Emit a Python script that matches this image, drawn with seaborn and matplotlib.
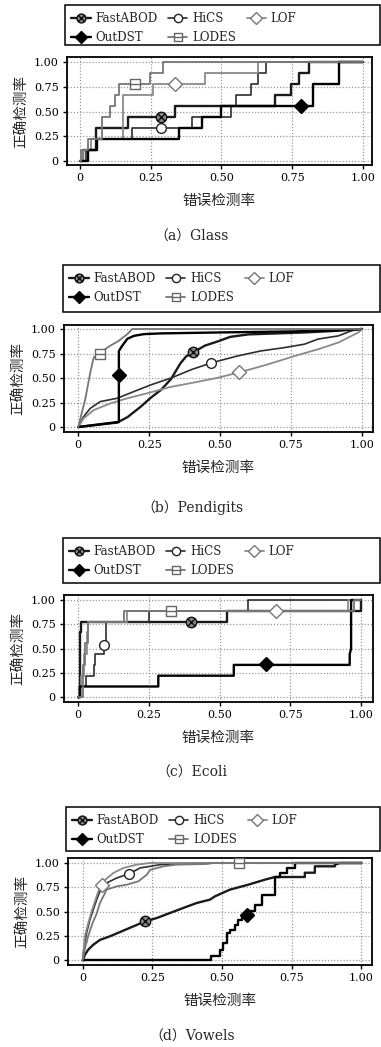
import numpy as np
import matplotlib
matplotlib.use("Agg")
import matplotlib.pyplot as plt
from matplotlib.lines import Line2D
from matplotlib.patches import Rectangle
from matplotlib.path import Path
import seaborn as sns

# ---------------- data ----------------
methods = ["FastABOD", "HiCS", "LOF", "OutDST", "LODES"]
tick_vals = [0, 0.25, 0.5, 0.75, 1.0]
tick_labels = ["0", "0.25", "0.50", "0.75", "1.00"]
captions = ["（a）Glass", "（b）Pendigits", "（c）Ecoli", "（d）Vowels"]
xlabel_text = "错误检测率"
ylabel_text = "正确检测率"

# (a) Glass
a_fastabod_x = [0, 0.01, 0.01, 0.057, 0.057, 0.17, 0.17, 0.337, 0.337, 0.69, 0.69, 0.745, 0.745, 0.775, 0.775, 0.81, 0.81, 1.0]
a_fastabod_y = [0, 0, 0.111, 0.111, 0.333, 0.333, 0.444, 0.444, 0.556, 0.556, 0.667, 0.667, 0.778, 0.778, 0.889, 0.889, 1.0, 1.0]
a_hics_x = [0, 0.02, 0.02, 0.06, 0.06, 0.182, 0.182, 0.396, 0.396, 0.533, 0.533, 0.553, 0.553, 0.605, 0.605, 0.628, 0.628, 0.658, 0.658, 1.0]
a_hics_y = [0, 0, 0.111, 0.111, 0.222, 0.222, 0.333, 0.333, 0.444, 0.444, 0.556, 0.556, 0.667, 0.667, 0.778, 0.778, 0.889, 0.889, 1.0, 1.0]
a_lof_x = [0, 0.01, 0.01, 0.04, 0.04, 0.152, 0.152, 0.257, 0.257, 0.44, 0.44, 0.63, 0.63, 1.0]
a_lof_y = [0, 0, 0.111, 0.111, 0.222, 0.222, 0.667, 0.667, 0.778, 0.778, 0.889, 0.889, 1.0, 1.0]
a_outdst_x = [0, 0.03, 0.03, 0.06, 0.06, 0.349, 0.349, 0.43, 0.43, 0.497, 0.497, 0.825, 0.825, 0.914, 0.914, 1.0]
a_outdst_y = [0, 0, 0.111, 0.111, 0.222, 0.222, 0.333, 0.333, 0.444, 0.444, 0.556, 0.556, 0.778, 0.778, 1.0, 1.0]
a_lodes_x = [0, 0.005, 0.005, 0.03, 0.03, 0.079, 0.079, 0.105, 0.105, 0.123, 0.123, 0.138, 0.138, 0.247, 0.247, 0.295, 0.295, 1.0]
a_lodes_y = [0, 0, 0.111, 0.111, 0.222, 0.222, 0.444, 0.444, 0.556, 0.556, 0.667, 0.667, 0.778, 0.778, 0.889, 0.889, 1.0, 1.0]
a_marker_x = [0.285, 0.285, 0.337, 0.78, 0.194]
a_marker_y = [0.444, 0.333, 0.778, 0.556, 0.778]

# (b) Pendigits
b_fastabod_x = [0, 0.137, 0.173, 0.22, 0.256, 0.292, 0.327, 0.36, 0.38, 0.408, 0.446, 0.488, 0.536, 0.6, 0.7, 0.8, 0.9, 1.0]
b_fastabod_y = [0, 0.045, 0.1, 0.207, 0.3, 0.38, 0.49, 0.65, 0.72, 0.766, 0.83, 0.87, 0.92, 0.945, 0.955, 0.965, 0.98, 1.0]
b_hics_x = [0, 0.018, 0.042, 0.077, 0.137, 0.196, 0.256, 0.327, 0.399, 0.47, 0.56, 0.643, 0.726, 0.797, 0.845, 0.917, 0.964, 1.0]
b_hics_y = [0, 0.103, 0.19, 0.259, 0.293, 0.362, 0.43, 0.5, 0.586, 0.655, 0.724, 0.776, 0.81, 0.845, 0.897, 0.93, 0.983, 1.0]
b_lof_x = [0, 0.018, 0.054, 0.113, 0.173, 0.244, 0.327, 0.41, 0.488, 0.571, 0.667, 0.762, 0.845, 0.917, 0.988, 1.0]
b_lof_y = [0, 0.086, 0.172, 0.241, 0.293, 0.345, 0.41, 0.455, 0.5, 0.56, 0.638, 0.724, 0.793, 0.862, 0.966, 1.0]
b_outdst_x = [0, 0.137, 0.143, 0.143, 0.155, 0.173, 0.196, 0.232, 0.29, 0.5, 0.75, 0.9, 1.0]
b_outdst_y = [0, 0.05, 0.05, 0.776, 0.83, 0.9, 0.93, 0.948, 0.955, 0.965, 0.975, 0.985, 1.0]
b_lodes_x = [0, 0.01, 0.024, 0.042, 0.054, 0.077, 0.113, 0.143, 0.173, 0.19, 1.0]
b_lodes_y = [0, 0.12, 0.276, 0.552, 0.707, 0.76, 0.83, 0.88, 0.948, 1.0, 1.0]
b_marker_x = [0.405, 0.468, 0.565, 0.143, 0.077]
b_marker_y = [0.766, 0.65, 0.56, 0.534, 0.75]

# (c) Ecoli
c_fastabod_x = [0, 0.005, 0.005, 0.01, 0.01, 0.526, 0.526, 1.0, 1.0]
c_fastabod_y = [0, 0, 0.667, 0.667, 0.778, 0.778, 0.889, 0.889, 1.0]
c_hics_x = [0, 0.005, 0.005, 0.027, 0.027, 0.054, 0.054, 0.06, 0.06, 0.09, 0.09, 0.098, 0.098, 0.25, 0.25, 0.6, 0.6, 1.0]
c_hics_y = [0, 0, 0.111, 0.111, 0.222, 0.222, 0.333, 0.333, 0.444, 0.444, 0.556, 0.556, 0.778, 0.778, 0.889, 0.889, 1.0, 1.0]
c_lof_x = [0, 0.01, 0.01, 0.02, 0.02, 0.03, 0.03, 0.035, 0.035, 0.173, 0.173, 0.953, 0.953, 1.0]
c_lof_y = [0, 0, 0.222, 0.222, 0.444, 0.444, 0.667, 0.667, 0.778, 0.778, 0.889, 0.889, 1.0, 1.0]
c_outdst_x = [0, 0.005, 0.005, 0.283, 0.283, 0.55, 0.55, 0.96, 0.96, 0.965, 0.965, 1.0]
c_outdst_y = [0, 0, 0.111, 0.111, 0.222, 0.222, 0.333, 0.333, 0.444, 0.5, 1.0, 1.0]
c_lodes_x = [0, 0.015, 0.015, 0.025, 0.025, 0.036, 0.036, 0.163, 0.163, 0.976, 0.976, 1.0]
c_lodes_y = [0, 0, 0.333, 0.333, 0.556, 0.556, 0.778, 0.778, 0.889, 0.889, 1.0, 1.0]
c_marker_x = [0.40, 0.09, 0.70, 0.665, 0.327]
c_marker_y = [0.778, 0.54, 0.889, 0.345, 0.889]

# (d) Vowels
d_fastabod_x = [0, 0.008, 0.02, 0.038, 0.062, 0.098, 0.14, 0.182, 0.224, 0.266, 0.313, 0.361, 0.409, 0.456, 0.475, 0.528, 0.594, 0.654, 0.69, 0.797, 0.797, 0.833, 0.833, 0.905, 0.905, 0.923, 1.0]
d_fastabod_y = [0, 0.058, 0.11, 0.16, 0.21, 0.247, 0.298, 0.349, 0.4, 0.435, 0.486, 0.538, 0.589, 0.623, 0.658, 0.726, 0.777, 0.829, 0.856, 0.856, 0.9, 0.9, 0.966, 0.966, 0.983, 1.0, 1.0]
d_hics_x = [0, 0.005, 0.014, 0.026, 0.038, 0.05, 0.062, 0.086, 0.122, 0.167, 0.206, 0.242, 0.278, 0.337, 0.43, 1.0]
d_hics_y = [0, 0.144, 0.281, 0.418, 0.521, 0.623, 0.709, 0.795, 0.846, 0.89, 0.949, 0.966, 0.983, 0.993, 1.0, 1.0]
d_lof_x = [0, 0.008, 0.02, 0.032, 0.044, 0.056, 0.068, 0.074, 0.11, 0.146, 0.194, 0.242, 1.0]
d_lof_y = [0, 0.247, 0.384, 0.503, 0.606, 0.709, 0.777, 0.812, 0.897, 0.949, 0.983, 1.0, 1.0]
d_outdst_x = [0, 0.46, 0.46, 0.493, 0.493, 0.505, 0.505, 0.517, 0.517, 0.529, 0.529, 0.547, 0.547, 0.559, 0.559, 0.571, 0.571, 0.594, 0.594, 0.618, 0.618, 0.642, 0.642, 0.69, 0.69, 0.708, 0.708, 0.732, 0.732, 0.762, 0.762, 1.0]
d_outdst_y = [0, 0, 0.041, 0.041, 0.11, 0.11, 0.178, 0.178, 0.281, 0.281, 0.315, 0.315, 0.366, 0.366, 0.418, 0.418, 0.469, 0.469, 0.503, 0.503, 0.572, 0.572, 0.675, 0.675, 0.856, 0.856, 0.897, 0.897, 0.949, 0.949, 1.0, 1.0]
d_lodes_x = [0, 0.008, 0.02, 0.035, 0.05, 0.062, 0.086, 0.122, 0.158, 0.2, 0.23, 0.242, 0.29, 0.337, 0.445, 0.47, 1.0]
d_lodes_y = [0, 0.12, 0.25, 0.38, 0.48, 0.589, 0.726, 0.76, 0.777, 0.812, 0.88, 0.93, 0.966, 0.983, 0.99, 1.0, 1.0]
d_marker_x = [0.224, 0.167, 0.068, 0.591, 0.56]
d_marker_y = [0.40, 0.89, 0.777, 0.469, 0.995]

panels_data = [
    ([a_fastabod_x, a_hics_x, a_lof_x, a_outdst_x, a_lodes_x],
     [a_fastabod_y, a_hics_y, a_lof_y, a_outdst_y, a_lodes_y], a_marker_x, a_marker_y),
    ([b_fastabod_x, b_hics_x, b_lof_x, b_outdst_x, b_lodes_x],
     [b_fastabod_y, b_hics_y, b_lof_y, b_outdst_y, b_lodes_y], b_marker_x, b_marker_y),
    ([c_fastabod_x, c_hics_x, c_lof_x, c_outdst_x, c_lodes_x],
     [c_fastabod_y, c_hics_y, c_lof_y, c_outdst_y, c_lodes_y], c_marker_x, c_marker_y),
    ([d_fastabod_x, d_hics_x, d_lof_x, d_outdst_x, d_lodes_x],
     [d_fastabod_y, d_hics_y, d_lof_y, d_outdst_y, d_lodes_y], d_marker_x, d_marker_y),
]

# ---------------- styles ----------------
sns.set_style("white")
plt.rcParams['font.family'] = ['DejaVu Serif', 'Noto Sans CJK SC']
plt.rcParams['axes.unicode_minus'] = False

circ = Path.unit_circle()
dd = 0.7071
otimes = Path(list(circ.vertices) + [(-dd, -dd), (dd, dd), (-dd, dd), (dd, -dd)],
              list(circ.codes) + [Path.MOVETO, Path.LINETO, Path.MOVETO, Path.LINETO])
sqminus = Path([(-1, -1), (1, -1), (1, 1), (-1, 1), (-1, -1), (-1, 0), (1, 0)],
               [Path.MOVETO, Path.LINETO, Path.LINETO, Path.LINETO, Path.CLOSEPOLY, Path.MOVETO, Path.LINETO])

styles = {
    "FastABOD": dict(color="#1a1a1a", lw=1.7, marker=otimes, mfc="#8a8a8a", mec="#111111", ms=7.5),
    "HiCS": dict(color="#2e2e2e", lw=1.2, marker="o", mfc="white", mec="#222222", ms=7),
    "LOF": dict(color="#8a8a8a", lw=1.3, marker="D", mfc="white", mec="#777777", ms=7.5),
    "OutDST": dict(color="#000000", lw=1.7, marker="D", mfc="black", mec="black", ms=7.5),
    "LODES": dict(color="#767676", lw=1.3, marker=sqminus, mfc="white", mec="#666666", ms=6.5),
}

W, H = 381, 1047
fig = plt.figure(figsize=(W / 100, H / 100), dpi=100)

def frect(l, t, r, b):
    return [l / W, 1 - b / H, (r - l) / W, (b - t) / H]

layout = [
    dict(ax=(67, 57, 372, 165), x0=80, x1=363, y1=62, y0=161, leg=(65, 5, 380, 45), cap=237),
    dict(ax=(64, 325, 373, 432), x0=78.3, x1=362, y1=329, y0=427, leg=(63, 265, 380, 312), cap=508),
    dict(ax=(64, 595, 373, 702), x0=78.3, x1=361, y1=600, y0=697.3, leg=(63, 538, 380, 583), cap=773),
    dict(ax=(68, 858, 372, 965), x0=82.7, x1=361.4, y1=863, y0=960.3, leg=(66, 807, 380, 851), cap=1037),
]

for (xs, ys, mx, my), lay, cap in zip(panels_data, layout, captions):
    l, t, r, b = lay["ax"]
    ax = fig.add_axes(frect(l, t, r, b))
    for name, x, y in zip(methods, xs, ys):
        st = styles[name]
        sns.lineplot(x=x, y=y, ax=ax, color=st["color"], lw=st["lw"],
                     estimator=None, sort=False, zorder=3)
    for name, px, py in zip(methods, mx, my):
        st = styles[name]
        ax.plot([px], [py], linestyle="none", marker=st["marker"], ms=st["ms"],
                mfc=st["mfc"], mec=st["mec"], mew=1.0, zorder=5)
    sx = lay["x1"] - lay["x0"]
    sy = lay["y0"] - lay["y1"]
    ax.set_xlim((l - lay["x0"]) / sx, (r - lay["x0"]) / sx)
    ax.set_ylim((lay["y0"] - b) / sy, (lay["y0"] - t) / sy)
    ax.set_xticks(tick_vals)
    ax.set_xticklabels(tick_labels)
    ax.set_yticks(tick_vals)
    ax.set_yticklabels(tick_labels)
    ax.grid(True, linestyle=(0, (1, 1.5)), color="#9a9a9a", lw=0.9, zorder=0)
    for sp in ax.spines.values():
        sp.set_color("black")
        sp.set_linewidth(1.3)
    ax.tick_params(direction="out", length=3, width=1, labelsize=8, pad=3,
                   bottom=True, left=True, colors="black")
    ax.set_xlabel(xlabel_text, fontsize=10.5, labelpad=8)
    ax.set_ylabel(ylabel_text, fontsize=10.5, labelpad=4)

    # legend
    ll, lt, lr, lb = lay["leg"]
    handles = []
    for name in methods:
        st = styles[name]
        handles.append(Line2D([], [], color=st["color"], lw=st["lw"], marker=st["marker"],
                              ms=st["ms"] * 0.85, mfc=st["mfc"], mec=st["mec"], mew=1.0))
    order = [0, 3, 1, 4, 2]
    fig.legend([handles[i] for i in order], [methods[i] for i in order],
               loc="upper left", bbox_to_anchor=((ll + 4) / W, 1 - (lt + 5) / H),
               ncol=3, frameon=False, fontsize=8.6, handlelength=1.6,
               handletextpad=0.4, columnspacing=0.9, labelspacing=0.45,
               borderpad=0.2, borderaxespad=0)
    fig.patches.append(Rectangle((ll / W, 1 - lb / H), (lr - ll) / W, (lb - lt) / H,
                                 transform=fig.transFigure, fill=False,
                                 edgecolor="black", lw=1.1))
    fig.text(192 / W, 1 - lay["cap"] / H, cap, ha="center", va="center", fontsize=10)

fig.savefig("out.png", dpi=100)
